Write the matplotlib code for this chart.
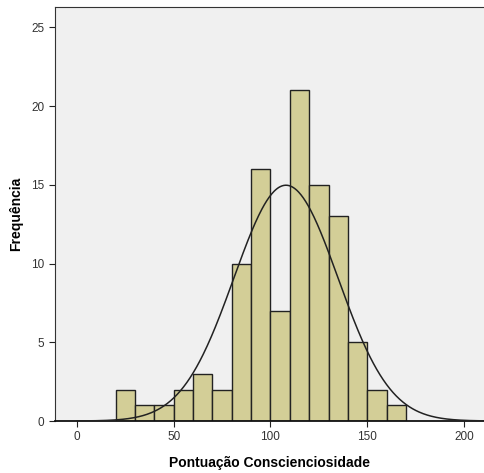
import numpy as np
import matplotlib.pyplot as plt

# histogram data (bin width 10)
bin_edges = [20, 30, 40, 50, 60, 70, 80, 90, 100, 110, 120, 130, 140, 150, 160, 170]
counts = [2, 1, 1, 2, 3, 2, 10, 16, 7, 21, 15, 13, 5, 2, 1]

# normal curve parameters
mean = 108.0
sd = 26.9
n = sum(counts)
bin_width = 10

plt.rcParams['font.family'] = ['Liberation Sans', 'DejaVu Sans']

fig = plt.figure(figsize=(4.85, 4.73), dpi=100)
ax = fig.add_axes([0.1134, 0.1099, 0.8866, 0.8753])
ax.set_facecolor('#f0f0f0')

lefts = bin_edges[:-1]
ax.bar(lefts, counts, width=bin_width, align='edge', color='#d3ce97',
       edgecolor='#222222', linewidth=1.0, zorder=2)

xs = np.linspace(0, 210, 500)
ys = n * bin_width / (sd * np.sqrt(2 * np.pi)) * np.exp(-0.5 * ((xs - mean) / sd) ** 2)
ax.plot(xs, ys, color='#222222', linewidth=1.1, zorder=3)

ax.set_xlim(-11.3, 210.8)
ax.set_ylim(0, 26.3)
ax.set_xticks([0, 50, 100, 150, 200])
ax.set_yticks([0, 5, 10, 15, 20, 25])
ax.tick_params(axis='both', labelsize=8.5, colors='#222222', length=4, width=0.8,
               labelcolor='#333333')

for side in ['top', 'left']:
    ax.spines[side].set_color('#333333')
    ax.spines[side].set_linewidth(0.8)
ax.spines['right'].set_visible(False)
ax.spines['bottom'].set_color('#111111')
ax.spines['bottom'].set_linewidth(1.3)

ax.set_xlabel('Pontuação Conscienciosidade', fontsize=10, fontweight='bold', labelpad=9)
ax.set_ylabel('Frequência', fontsize=10, fontweight='bold', labelpad=6)

fig.savefig('out.png', dpi=100)
